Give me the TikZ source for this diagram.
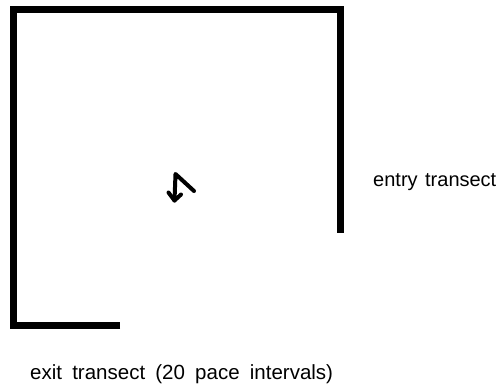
\documentclass[tikz,border=0pt]{standalone}
\usepackage{fontspec}
\setmainfont{Liberation Sans}
\begin{document}
\begin{tikzpicture}[x=1pt,y=-1pt,
  wall/.style={line width=7pt, line join=miter, line cap=butt},
  pen/.style={line width=4pt, line join=round, line cap=round},
  label/.style={anchor=base west, inner sep=0pt}]
\useasboundingbox (0,0) rectangle (501,389);
% transect walls
\coordinate (exitend) at (120,325);
\coordinate (bl) at (13,325);
\coordinate (tl) at (13,9.5);
\coordinate (tr) at (340.5,9.5);
\coordinate (entryend) at (340.5,233);
\draw[wall] (exitend) -- (bl) -- (tl) -- (tr) -- (entryend);
% hand-drawn turn arrow
\coordinate (a1) at (194,191);
\coordinate (a2) at (175.5,174);
\coordinate (a3) at (174.5,200.5);
\draw[pen] (a1) -- (a2) -- (a3);
\draw[pen] (168.5,192.5) -- (a3) -- (181,194.5);
% labels
\node[label, font=\fontsize{20}{24}\selectfont] (entry) at (373,186.5)
  {\spaceskip=7.5pt\relax entry transect};
\node[label, font=\fontsize{20.5}{24}\selectfont] (exit) at (30,379.5)
  {\spaceskip=10.2pt\relax exit transect (20 pace intervals)};
\end{tikzpicture}
\end{document}
